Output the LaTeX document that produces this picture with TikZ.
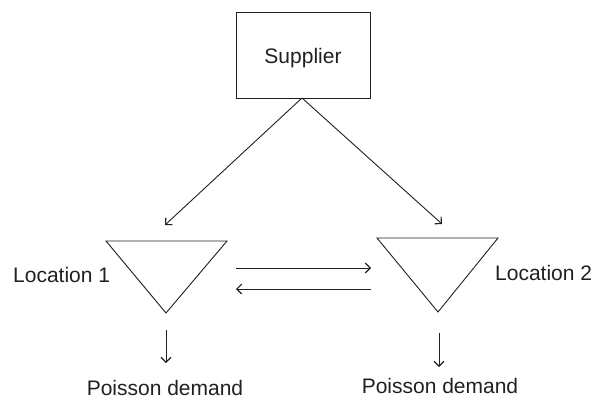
\documentclass[tikz,border=0pt]{standalone}
\usepackage{fontspec}
\setmainfont{Liberation Sans}
\usetikzlibrary{arrows.meta}
\definecolor{ink}{HTML}{231F20}
\begin{document}
\begin{tikzpicture}[x=1pt,y=-1pt,
  every node/.style={font=\fontsize{21}{24}\selectfont, text=ink, inner sep=0pt},
  ln/.style={draw=ink, line width=0.9pt},
  arr/.style={ln, -{Straight Barb[angle=90:6pt 1, line width=1.1pt]}},
  boxnode/.style={draw=ink, line width=0.9pt, minimum width=134pt, minimum height=86pt}]
\useasboundingbox (0,0) rectangle (605,399);
% supplier
\node[boxnode] (sup) at (303,55) {};
\node[anchor=base] (suptxt) at (303,63) {Supplier};
% triangles
\coordinate (t1a) at (106,241); \coordinate (t1b) at (227,241); \coordinate (t1c) at (166,313);
\coordinate (t2a) at (377,238); \coordinate (t2b) at (498,238); \coordinate (t2c) at (438,312);
\draw[ln, line join=miter] (t1a) -- (t1b) -- (t1c) -- cycle;
\draw[ln, line join=miter] (t2a) -- (t2b) -- (t2c) -- cycle;
% supplier arrows
\coordinate (sbot) at (302,98);
\coordinate (e1) at (165,225);
\coordinate (e2) at (442,224);
\draw[arr] (sbot) -- (e1);
\draw[arr] (sbot) -- (e2);
% horizontal arrows
\coordinate (h1s) at (236,268); \coordinate (h1e) at (371,268);
\coordinate (h2s) at (371,289); \coordinate (h2e) at (236,289);
\draw[arr] (h1s) -- (h1e);
\draw[arr] (h2s) -- (h2e);
% labels
\node[anchor=base west] (l1) at (13,282) {Location 1};
\node[anchor=base west] (l2) at (495,280) {Location 2};
% demand arrows
\coordinate (d1s) at (166,330); \coordinate (d1e) at (166,363);
\coordinate (d2s) at (439,333); \coordinate (d2e) at (439,367);
\draw[arr] (d1s) -- (d1e);
\draw[arr] (d2s) -- (d2e);
\node[anchor=base] (p1) at (165,395) {Poisson demand};
\node[anchor=base] (p2) at (440,393) {Poisson demand};
\end{tikzpicture}
\end{document}
